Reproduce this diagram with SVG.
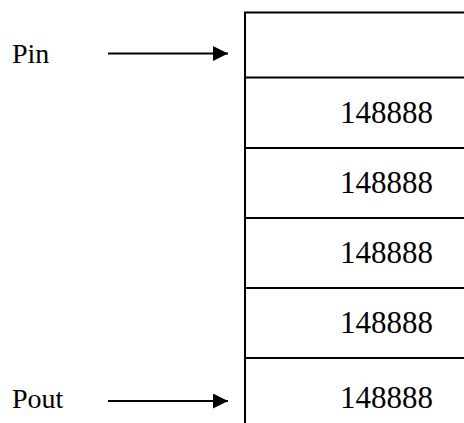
<svg xmlns="http://www.w3.org/2000/svg" width="464" height="423" viewBox="0 0 464 423">
  <style>
    .grid { stroke: #000; stroke-width: 2; fill: none; }
    .ptr { stroke: #000; stroke-width: 2; fill: none; }
    .label { font-family: "Liberation Serif", "Times New Roman", serif; font-size: 28px; fill: #000; }
    .val { font-family: "Liberation Serif", "Times New Roman", serif; font-size: 31px; fill: #000; }
  </style>
  <defs>
    <marker id="head" markerUnits="userSpaceOnUse" markerWidth="16" markerHeight="16" refX="15" refY="7.5" orient="auto">
      <path d="M0,0 L15,7.5 L0,15 Z" fill="#000"/>
    </marker>
  </defs>
  <rect width="464" height="423" fill="#fff"/>

  <!-- stack cells -->
  <g id="stack">
    <path class="grid" d="M245,423 V12.5 H464"/>
    <g id="cell-0"><line class="grid" x1="245" y1="77.5" x2="464" y2="77.5"/></g>
    <g id="cell-1">
      <line class="grid" x1="245" y1="148" x2="464" y2="148"/>
      <text class="val" x="340" y="123">148888</text>
    </g>
    <g id="cell-2">
      <line class="grid" x1="245" y1="218" x2="464" y2="218"/>
      <text class="val" x="340" y="193">148888</text>
    </g>
    <g id="cell-3">
      <line class="grid" x1="245" y1="288" x2="464" y2="288"/>
      <text class="val" x="340" y="263">148888</text>
    </g>
    <g id="cell-4">
      <line class="grid" x1="245" y1="358" x2="464" y2="358"/>
      <text class="val" x="340" y="333">148888</text>
    </g>
    <g id="cell-5">
      <text class="val" x="340" y="408">148888</text>
    </g>
  </g>

  <!-- pointer labels -->
  <g id="pin"><text class="label" x="12" y="63">Pin</text></g>
  <g id="pout"><text class="label" x="12" y="408">Pout</text></g>

  <!-- pointer arrows -->
  <g id="connectors">
    <line class="ptr" x1="108" y1="53.5" x2="228" y2="53.5" marker-end="url(#head)"/>
    <line class="ptr" x1="108" y1="401" x2="228" y2="401" marker-end="url(#head)"/>
  </g>
</svg>
